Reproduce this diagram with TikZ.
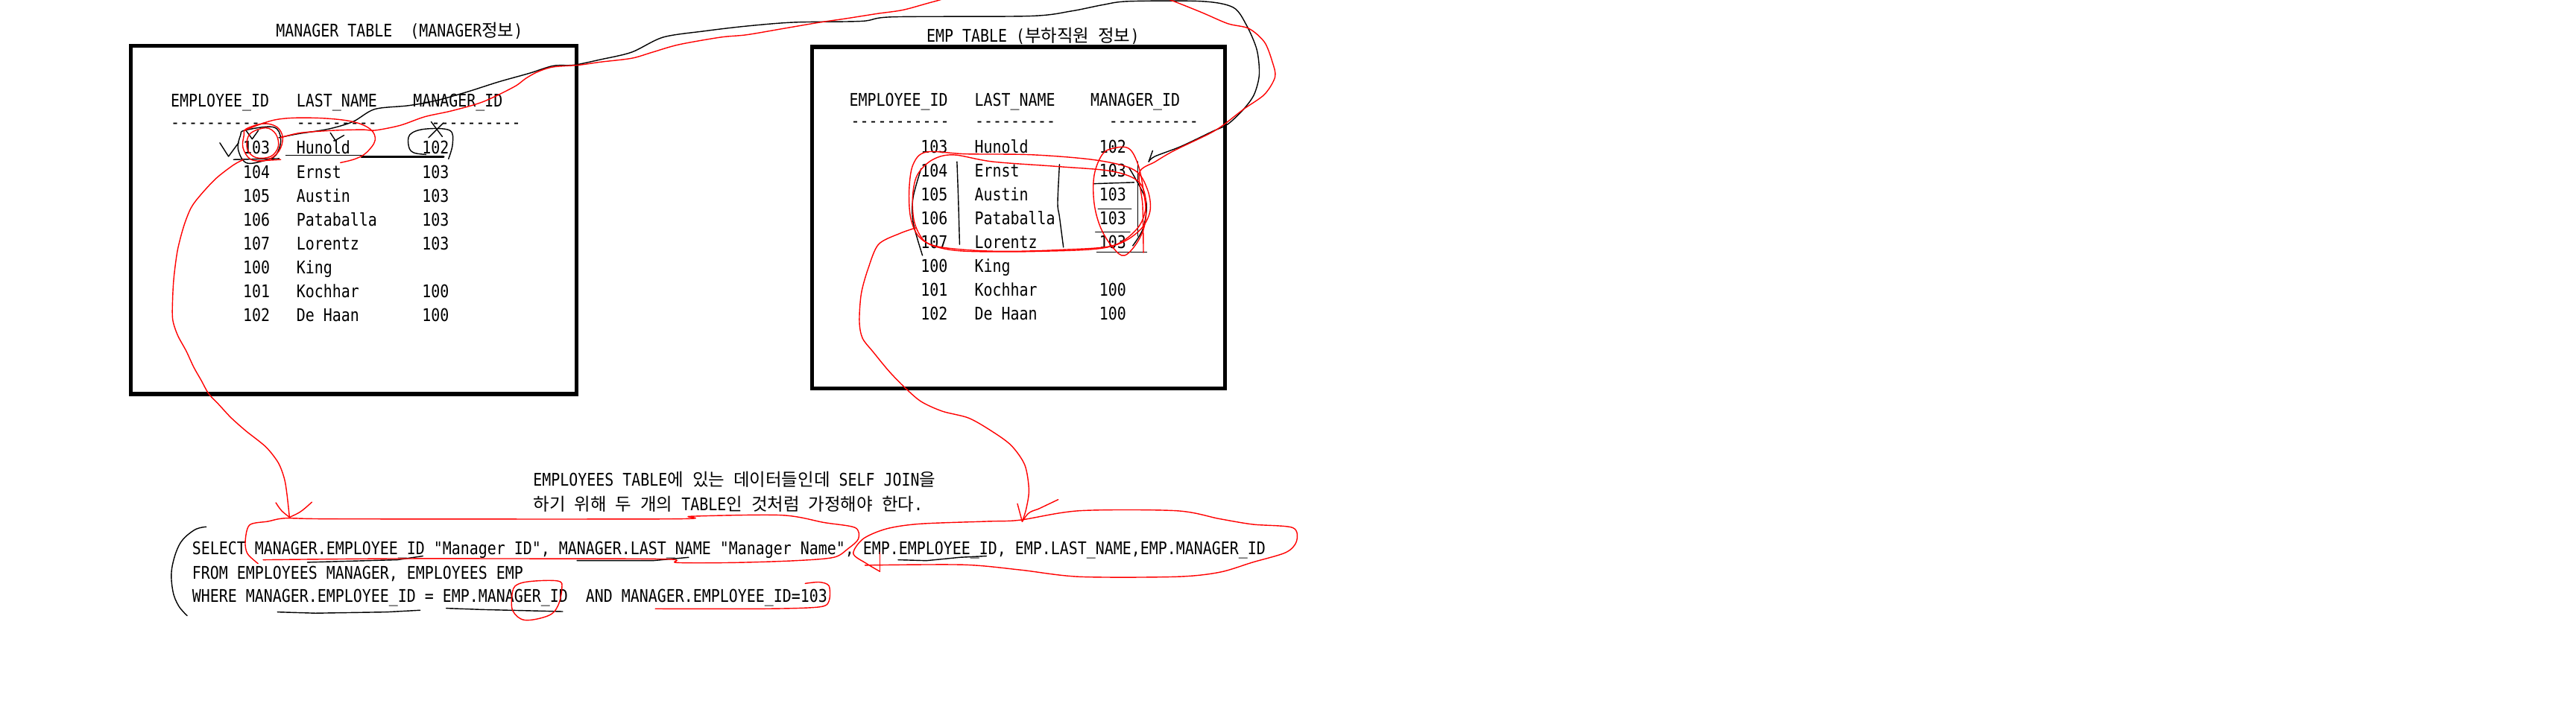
\documentclass[tikz,border=0pt]{standalone}
\usepackage{fontspec}
\newfontfamily\gulfont[FakeStretch=0.85,Ligatures=TeXOff]{DejaVu Sans Mono}
\newfontfamily\krfont{Noto Sans CJK KR}
\newcommand\kr[1]{{\krfont #1}}
\newcommand\gulsize{\gulfont\fontsize{6.67pt}{8pt}\selectfont\frenchspacing}

\begin{document}
\begin{tikzpicture}[
    x=0.02204cm, y=-0.02204cm,
    txt/.style={inner sep=0pt, outer sep=0pt, anchor=base west, font=\gulsize},
    txtr/.style={txt, anchor=base east},
    tablebox/.style={draw, line width=1.45pt},
    redpen/.style={draw=red, line width=0.4pt, line cap=round, line join=round},
    blackpen/.style={draw=black, line width=0.4pt, line cap=round, line join=round},
]
\useasboundingbox[fill=white] (0,0) rectangle (1568,441);
\clip (0,0) rectangle (1568,441);

% Manager table
\node[txt] (mtitle) at (168,22.4) {MANAGER TABLE\ \ (MANAGER\kr{정보})};
\draw[tablebox] (79.8,28) rectangle (351,240);
\node[txt] (mh1) at (104,65) {EMPLOYEE\_ID};
\node[txt] (mh2) at (180.5,65) {LAST\_NAME};
\node[txt] (mh3) at (251.5,65) {MANAGER\_ID};
\node[txt] (md1) at (104,78.2) {-----------};
\node[txt] (md2) at (180.5,78.2) {---------};
\node[txt] (md3) at (262.5,78.2) {----------};
\foreach \id/\nm/\mg [count=\r] in {103/Hunold/102, 104/Ernst/103, 105/Austin/103, 106/Pataballa/103,
    107/Lorentz/103, 100/King/{}, 101/Kochhar/100, 102/De Haan/100}{
    \node[txtr] (mid\r) at (164.3,{93.9+14.55*(\r-1)}) {\id};
    \node[txt] (mnm\r) at (180.5,{93.9+14.55*(\r-1)}) {\nm};
    \node[txt] (mmg\r) at (257,{93.9+14.55*(\r-1)}) {\mg};
}

% EMP table
\node[txt] (etitle) at (564,25.5) {EMP TABLE (\kr{부하직원} \kr{정보})};
\draw[tablebox] (494.3,28.6) rectangle (745.8,236.5);
\node[txt] (eh1) at (517,64.5) {EMPLOYEE\_ID};
\node[txt] (eh2) at (593.3,64.5) {LAST\_NAME};
\node[txt] (eh3) at (663.8,64.5) {MANAGER\_ID};
\node[txt] (ed1) at (518,77.5) {-----------};
\node[txt] (ed2) at (593.5,77.5) {---------};
\node[txt] (ed3) at (675,77.5) {----------};
\foreach \id/\nm/\mg [count=\r] in {103/Hunold/102, 104/Ernst/103, 105/Austin/103, 106/Pataballa/103,
    107/Lorentz/103, 100/King/{}, 101/Kochhar/100, 102/De Haan/100}{
    \node[txtr] (eid\r) at (576.8,{93.1+14.55*(\r-1)}) {\id};
    \node[txt] (enm\r) at (593.3,{93.1+14.55*(\r-1)}) {\nm};
    \node[txt] (emg\r) at (669.2,{93.1+14.55*(\r-1)}) {\mg};
}

% Note and query
\node[txt] (note1) at (324.6,296.2) {EMPLOYEES TABLE\kr{에} \kr{있는} \kr{데이터들인데} SELF JOIN\kr{을}};
\node[txt] (note2) at (324.6,310.9) {\kr{하기} \kr{위해} \kr{두} \kr{개의} TABLE\kr{인} \kr{것처럼} \kr{가정해야} \kr{한다}.};
\node[txt] (sql1) at (117,338) {SELECT MANAGER.EMPLOYEE\_ID "Manager ID", MANAGER.LAST\_NAME "Manager Name", EMP.EMPLOYEE\_ID, EMP.LAST\_NAME,EMP.MANAGER\_ID};
\node[txt] (sql2) at (117,352.6) {FROM EMPLOYEES MANAGER, EMPLOYEES EMP};
\node[txt] (sql3) at (117,367) {WHERE MANAGER.EMPLOYEE\_ID = EMP.MANAGER\_ID\ \ AND MANAGER.EMPLOYEE\_ID=103};

% Black pen marks, manager table
\draw[blackpen] (133.8,87) -- (139.1,95.3) -- (145.2,87);
\draw[blackpen] plot[smooth cycle, tension=0.6] coordinates {(149,79.4) (166.3,77.4) (170.9,84.7) (167.9,94.5)
    (160.3,98) (149.7,99.1) (144.9,90.7) (146.4,82.4)};
\draw[blackpen] (149.7,79.4) -- (153.5,84.7) -- (157.3,79.4);
\draw[blackpen] (201.1,80.9) -- (204.1,85.5) -- (209.4,82.4);
\draw[blackpen] (262.4,74.1) -- (269.2,83.2) (269.9,74.9) -- (260.8,83.9);
\draw[blackpen] plot[smooth, tension=0.6] coordinates {(259.3,94.1) (251.8,93) (248.8,89.2) (249.5,82)
    (258.6,78.6) (273.7,79.4) (275.5,87.7) (273,96.8)};
\draw[blackpen] (142.2,97.2) -- (170,96.6);
\draw[blackpen] (174,94.6) -- (220,94.6);
\draw[blackpen, line width=0.9pt] (220,95.6) -- (270,95.6);

% Black pen link to EMP table
\draw[blackpen] plot[smooth, tension=0.5] coordinates {(169.7,83.9) (181,81.6) (199.9,78.6) (214.9,74.1)
    (228.1,66.5) (248.8,64.3) (265.8,61.2) (284.6,55.9) (303.4,49.9) (322.3,44.6) (336.7,40.1) (349.4,39.6)
    (365.4,36.3) (384.5,31.8) (403.6,22.7) (429,18.9) (454.5,15.9) (483.2,13.6) (524.6,12.9) (543.7,10.3)
    (626.4,9.8) (651.9,6.8) (671,3) (687,0.8) (731.5,0.8) (750.6,4.5) (758.6,15.1) (765,30.2) (766.5,45.4)
    (763.4,57.5) (757,66.5) (747.4,75.6) (737.9,80.1) (718.8,89.2) (702.9,95.3) (699.2,98.5)};
\draw[blackpen] (699.2,98.5) -- (701.6,91.8);

% Black pen marks, EMP table
\draw[blackpen] plot[smooth, tension=0.5] coordinates {(582.5,98.5) (583.3,120.3) (584.1,148.9)};
\draw[blackpen] plot[smooth, tension=0.5] coordinates {(644.9,100.2) (643.8,123.7) (644.9,132.1) (647.3,150.6)};
\draw[blackpen] plot[smooth, tension=0.5] coordinates {(560.7,102.7) (555.8,120.3) (555.8,135.4) (561.5,155.6)};
\draw[blackpen] (666,111.9) -- (690.3,111.1);
\draw[blackpen] (668.4,127.4) -- (688.6,127.4);
\draw[blackpen] (666.8,141.3) -- (687.8,141.3);
\draw[blackpen] (667.6,153.6) -- (698,153.6);
\draw[blackpen] (692.7,98.5) -- (692.7,143.8);
\draw[blackpen] plot[smooth, tension=0.5] coordinates {(687,101.8) (697.5,122) (695.9,138.8) (689.5,149.7)};

% Black pen marks, query
\draw[blackpen] plot[smooth, tension=0.6] coordinates {(125.5,320.9) (118.2,322.9) (109.5,331.2) (104.6,346.3)
    (105.2,359.9) (108.7,369) (113.9,375)};
\draw[blackpen] (187.1,342.5) -- (241.8,341) -- (257.4,338.7);
\draw[blackpen] (351.2,341.5) -- (397.5,341.5) -- (419.2,339.5);
\draw[blackpen] (168.9,372.8) -- (192,373.5) -- (235.4,372.8) -- (255.7,371.7);
\draw[blackpen] (271.6,370.5) -- (293.3,371.3) -- (322.3,372) -- (342.5,372.5);
\draw[blackpen] (546.7,341) -- (563.9,341.5) -- (584.2,339.5) -- (600.4,338.7);

% Red pen marks, manager table
\draw[redpen] plot[smooth cycle, tension=0.6] coordinates {(149.7,78.6) (160.3,75.3) (168.6,77.4) (172.1,83.9)
    (169.7,92.2) (162.6,97.5) (152.7,97.1) (147.9,90) (148.5,82.4)};
\draw[redpen] plot[smooth cycle, tension=0.6] coordinates {(152,81.7) (161.8,77.9) (167.9,81.7) (169.4,89.2)
    (164.8,95.3) (155.8,96) (150.5,90.7)};
\draw[redpen] plot[smooth, tension=0.6] coordinates {(149,79.4) (167.9,72.9) (190.5,71.8) (213.2,73.8)
    (225.3,78.6) (228.3,85.5) (223,93) (216.2,96.8) (207.2,99.1)};
\draw[redpen] (157.3,98) -- (170.9,97.2);

% Red pen link to EMP table
\draw[redpen] plot[smooth, tension=0.5] coordinates {(170.6,83.9) (183,80.9) (204.1,79.4) (220.8,79)
    (228.3,79.4) (243.5,76.4) (258.6,71.1) (275,67.5) (294,62) (312.9,52.9) (320,47.8) (327.2,43.8)
    (336.7,40.8) (352.6,39.6) (365.4,37.8) (384.5,35.5) (397.2,31.8) (413.1,27.2) (438.6,22.7) (454.5,21.2)
    (476.8,17.4) (499.1,13.6) (515,11.3) (534.1,8.3) (550,6) (569.1,0.8) (590,-4) (650,-8) (700,-4)
    (712.4,0) (731.5,7.6) (747.4,14.4) (760.2,17.4) (769.7,25.7) (774.5,37.8) (776.1,46.9) (769.7,57.5)
    (757,66.5) (744.3,76.4) (735.6,81.7) (714.6,91.8) (703.2,98.5) (693.5,105.2) (695.5,125) (696,153.9)};

% Red pen link to query, manager side
\draw[redpen] plot[smooth, tension=0.5] coordinates {(148.2,97.2) (142.1,100.5) (131.6,108.6) (122.5,118.3)
    (116.4,126.4) (111.9,137.7) (108.1,152.3) (105.9,168.5) (105.1,181.5) (105.1,194.4) (108.1,204.1)
    (113.4,213.9) (117.9,223.6) (122.5,231.7) (127,239.8) (133.1,246.3) (140.6,254.4) (149.7,262.5)
    (161.8,272.2) (169.4,281.9) (173.1,291.6) (174.7,301.3) (176.2,315.1)};
\draw[redpen] (167.9,306.2) .. controls (171,311) .. (176.2,315.1) .. controls (183,312) .. (189.8,305.9);

% Red pen marks, EMP table
\draw[redpen] plot[smooth cycle, tension=0.55] coordinates {(563.9,92.6) (588.2,93.8) (628.7,94.3) (667.6,97.6)
    (690.3,103.5) (698.4,115.3) (700,128.7) (693.5,140.5) (677.3,149.7) (644.9,152.2) (612.5,153.1)
    (588.2,152.2) (568.8,149.7) (559,143.8) (554.2,132.1) (553.4,115.3) (555.8,100.2)};
\draw[redpen] plot[smooth cycle, tension=0.55] coordinates {(580.1,94.3) (604.4,98.5) (644.9,101.5) (677.3,104.4)
    (693.5,111.1) (697.5,125.3) (691.9,139.6) (674.1,150.6) (631.9,153.1) (589.8,153.1) (572,150.9)
    (562.3,146.4) (556.6,135.4) (555.5,120.3) (558.2,106.9) (567.1,97.6)};
\draw[redpen] plot[smooth cycle, tension=0.6] coordinates {(677.3,90.4) (687,90.4) (692.7,100.2) (695.9,115.3)
    (697.5,132.1) (693.5,145.5) (684.6,155.6) (677.3,150.6) (670,138.8) (666,123.7) (666,106.9) (670.8,94.3)};

% Red pen link to query, EMP side
\draw[redpen] plot[smooth, tension=0.5] coordinates {(557.4,138.8) (547.7,142.2) (534.7,148.9) (528.3,164)
    (524.2,179.1) (523.1,195.9) (525,206) (531.5,214.4) (541.2,226.2) (550.9,236.2) (560.7,244.6)
    (573.6,250.5) (589.8,254.7) (604.4,263.1) (615.7,271.5) (623.8,283.3) (626.3,298.4) (624.6,310.1)
    (622.2,317.7)};
\draw[redpen] (619.3,306.8) -- (622.2,317.7) .. controls (626,312) .. (631.9,310.1) -- (644.1,304.3);

% Red pen marks, query
\draw[redpen] plot[smooth, tension=0.5] coordinates {(157.1,343.3) (150.6,337.2) (149.3,329.7) (151.9,319.8)
    (163.1,317.6) (174.7,315.6) (206.5,316.1) (409.1,316.1) (420.7,314.5) (475.6,313.8) (501.7,318.3)
    (520.5,321.4) (522.5,328.2) (516.2,334.2) (507.5,339.5) (484.3,341.5) (446.7,342.7) (412,342.7)
    (406.2,340.6) (322.3,340.3) (235.4,340.3) (160.2,341)};
\draw[redpen] plot[smooth, tension=0.5] coordinates {(526.5,344.3) (586.2,344) (620.7,347.1) (657.1,351.3)
    (715.9,351.3) (742.2,348.6) (762.5,342.5) (782.7,336.5) (789.2,329.7) (786.8,321.4) (762.5,319.4)
    (742.2,316) (715.9,311.1) (657.1,311.1) (620.7,316.8) (600.4,317.6) (559.9,319.1) (539.6,322.1)
    (525.4,328.2) (519.4,337.2) (527.5,343.3) (535.6,348.1)};
\draw[redpen] (535.6,336.5) -- (535.6,348.1);
\draw[redpen] plot[smooth, tension=0.6] coordinates {(311.6,362.9) (313.6,356.9) (322.3,354.2) (339.6,353.9)
    (342,358.4) (339.6,369) (333.8,375) (319.4,377.7) (312.1,372) (311.6,362.9)};
\draw[redpen] plot[smooth, tension=0.5] coordinates {(398.9,370.8) (467,370.8) (498.8,369.7) (504.6,366)
    (504.6,356.9) (498.8,354.6) (490.1,355.4)};
\end{tikzpicture}
\end{document}
